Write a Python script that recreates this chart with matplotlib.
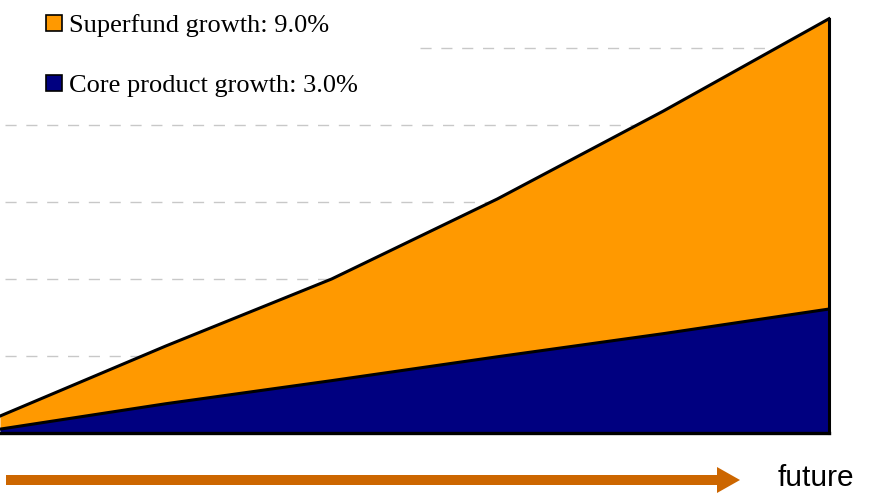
import numpy as np
import matplotlib
matplotlib.use('Agg')
import matplotlib.pyplot as plt
from matplotlib.patches import Patch, FancyArrow

# ---- data ----
periods = [0, 1, 2, 3, 4, 5]
core_product = [0.05, 0.38, 0.68, 0.99, 1.29, 1.61]
superfund_total = [0.22, 1.13, 2.00, 3.04, 4.18, 5.38]
grid_levels = [1, 2, 3, 4, 5]
labels = ['Superfund growth: 9.0%', 'Core product growth: 3.0%']
arrow_label = 'future'

orange = '#FF9900'
navy = '#000080'
arrow_col = '#CC6600'

W, H = 873, 493
fig = plt.figure(figsize=(W / 100., H / 100.), dpi=100)

# axes: left edge at px 0, data end at px 829, baseline at px 433
ax = fig.add_axes([0, 1 - 433. / H, 829. / W, 433. / H])
ax.set_xlim(0, periods[-1])
ax.set_ylim(0, 433. / 77)

for g in grid_levels:
    # the top line is hidden behind the legend box on the left
    start = 420. / 829 if g == grid_levels[-1] else 0.006
    ax.axhline(g, color='#c8c8c8', lw=1, ls=(0, (8, 7)), zorder=0, xmin=start)

ax.fill_between(periods, 0, core_product, color=navy, lw=0, zorder=2)
ax.fill_between(periods, core_product, superfund_total, color=orange, lw=0, zorder=2)
ax.plot(periods, superfund_total, color='black', lw=2.2, zorder=3, clip_on=False)
ax.plot(periods, core_product, color='black', lw=2.2, zorder=3, clip_on=False)
ax.plot([periods[-1], periods[-1]], [0, superfund_total[-1]], color='black', lw=2.2,
        zorder=3, clip_on=False, solid_capstyle='projecting')
ax.plot([periods[0], periods[-1]], [0, 0], color='black', lw=2.4, zorder=3, clip_on=False)

for s in ax.spines.values():
    s.set_visible(False)
ax.set_xticks([])
ax.set_yticks([])

handles = [Patch(facecolor=orange, edgecolor='black', lw=1.2),
           Patch(facecolor=navy, edgecolor='black', lw=1.2)]
leg = fig.legend(handles, labels, loc='upper left', bbox_to_anchor=(33. / W, 1 - 1. / H),
                 frameon=False, prop={'family': 'Liberation Serif', 'size': 19},
                 handlelength=0.58, handleheight=0.58, handletextpad=0.3,
                 labelspacing=1.42, borderpad=0.0)

# arrow along the bottom (inches from the lower left corner)
arr = FancyArrow(0.06, 0.13, 7.34, 0, width=0.10, head_width=0.26, head_length=0.23,
                 length_includes_head=True, color=arrow_col, lw=0,
                 transform=fig.dpi_scale_trans)
fig.patches.append(arr)

fig.text(778. / W, 1 - 478. / H, arrow_label, fontsize=21.5, family='Liberation Sans',
         va='center', ha='left')

plt.savefig('out.png', dpi=100)
